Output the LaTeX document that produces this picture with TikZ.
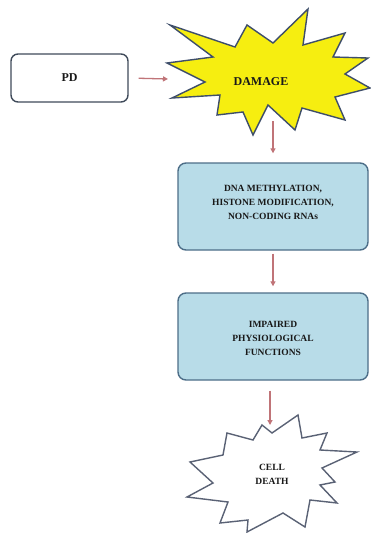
\documentclass[tikz,border=0pt]{standalone}
\usepackage{fontspec}
\setmainfont{Liberation Serif}
\usetikzlibrary{arrows.meta}
\definecolor{boxfill}{HTML}{B8DCE8}
\definecolor{boxline}{HTML}{4D6E88}
\definecolor{pdline}{HTML}{3F4A5A}
\definecolor{starfill}{HTML}{F6EE10}
\definecolor{starline}{HTML}{3E4E6A}
\definecolor{deathline}{HTML}{5A6275}
\definecolor{arrcol}{HTML}{C07478}
\tikzset{
  rbox/.style={draw=boxline, line width=1.4pt, fill=boxfill, rounded corners=8pt,
    minimum width=190pt, minimum height=87pt, align=center, inner sep=0pt},
  pdbox/.style={draw=pdline, line width=1.4pt, fill=white, rounded corners=7pt,
    minimum width=117pt, minimum height=48pt, inner sep=0pt},
  lbl/.style={font=\bfseries\fontsize{9.5}{14}\selectfont, align=center, text=black!90},
  biglbl/.style={lbl, font=\bfseries\fontsize{12}{14}\selectfont},
  arr/.style={draw=arrcol, line width=1.3pt, -{Triangle[length=5pt,width=5pt]}},
  starA/.style={draw=starline, line width=1.4pt, fill=starfill, line join=miter},
  starB/.style={draw=deathline, line width=1.4pt, fill=white, line join=miter}
}
\begin{document}
\begin{tikzpicture}[x=1pt,y=-1pt]
\useasboundingbox[fill=white] (0,0) rectangle (371,533);
% PD box
\node[pdbox] (pd) at (69.5,78) {};
\node[biglbl] (pdt) at (pd.center) {PD};
% DAMAGE star
\path[starA] (170,25) -- (235,47) -- (247,25) -- (273,43) -- (308,9) -- (303,45)
  -- (345,33) -- (333,57) -- (368,58) -- (345,74) -- (370,88) -- (335,97)
  -- (345,120) -- (302,108) -- (295,130) -- (268,105) -- (253,135) -- (243,112)
  -- (217,115) -- (220,95) -- (172,98) -- (205,82) -- (167,63) -- (213,57) -- cycle;
\node[biglbl] (damage) at (261,82) {DAMAGE};
\coordinate (dmgW) at (168,79);
\coordinate (dmgS) at (273,121);
% boxes
\node[rbox] (dna) at (273,206.5) {};
\node[lbl] (dnat) at (273,202) {DNA METHYLATION,\\HISTONE MODIFICATION,\\NON-CODING RNAs};
\node[rbox] (imp) at (273,336.5) {};
\node[lbl] (impt) at (273,338) {IMPAIRED\\PHYSIOLOGICAL\\FUNCTIONS};
% CELL DEATH star
\path[starB] (227,433) -- (253,440) -- (262,425) -- (272,433) -- (298,415) -- (302,438)
  -- (327,433) -- (320,450) -- (357,452) -- (322,468) -- (335,482) -- (320,485)
  -- (337,503) -- (310,500) -- (305,527) -- (283,513) -- (247,532) -- (248,520)
  -- (220,523) -- (228,502) -- (187,497) -- (213,483) -- (190,462) -- (223,455) -- cycle;
\node[lbl] (death) at (272,474) {CELL\\DEATH};
\coordinate (deathN) at (270,425);
% arrows
\draw[arr, shorten <=10pt] (pd.east) -- (dmgW);
\draw[arr, shorten >=9pt] (dmgS) -- (dna.north);
\draw[arr, shorten <=3pt, shorten >=6pt] (dna.south) -- (imp.north);
\draw[arr, shorten <=10pt] ([xshift=-3pt]imp.south) -- (deathN);
\end{tikzpicture}
\end{document}
